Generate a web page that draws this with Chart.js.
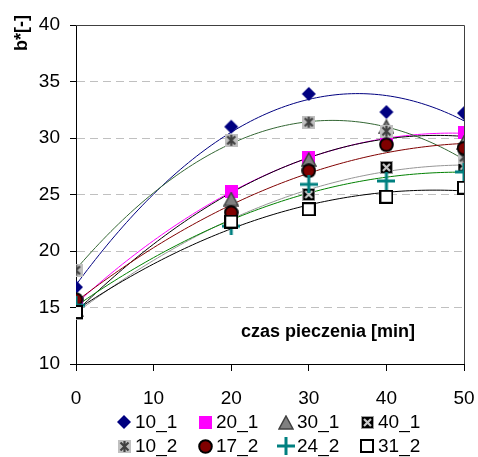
<!DOCTYPE html>
<html>
<head>
<meta charset="utf-8">
<script src="https://cdn.jsdelivr.net/npm/chart.js@4"></script>
<style>
  html, body { margin: 0; padding: 0; background: #fff; }
</style>
</head>
<body>
<canvas id="chart" width="478" height="457"></canvas>
<script>
// baking time [min]
const czas = [0, 20, 30, 40, 50]

// b* values per sample
const s10_1 = [16.8, 31.0, 33.9, 32.3, 32.2]
const s20_1 = [15.3, 25.3, 28.3, 29.8, 30.5]
const s30_1 = [14.8, 24.6, 28.1, 31.0, 29.6]
const s40_1 = [14.5, 23.0, 25.0, 27.4, 27.5]
const s10_2 = [18.3, 29.8, 31.4, 30.6, 28.3]
const s17_2 = [15.7, 23.4, 27.1, 29.4, 29.1]
const s24_2 = [15.2, 22.2, 25.9, 26.2, 27.0]
const s31_2 = [14.6, 22.6, 23.7, 24.8, 25.6]

const labels = ['10_1', '20_1', '30_1', '40_1', '10_2', '17_2', '24_2', '31_2']
const yTicks = [10, 15, 20, 25, 30, 35, 40]
const xTicks = [0, 10, 20, 30, 40, 50]

const FONT = "'Liberation Sans', Arial, sans-serif"

// marker pictures, drawn once and used as point styles
function marker(kind) {
    const c = document.createElement('canvas')
    const g = c.getContext('2d')
    if (kind == 'diamond') {
        c.width = c.height = 16
        g.fillStyle = '#000080'
        g.beginPath()
        g.moveTo(8, 1); g.lineTo(15, 8); g.lineTo(8, 15); g.lineTo(1, 8)
        g.closePath(); g.fill()
    } else if (kind == 'square') {
        c.width = c.height = 13
        g.fillStyle = '#ff00ff'
        g.fillRect(0, 0, 13, 13)
    } else if (kind == 'triangle') {
        c.width = 16; c.height = 15
        g.fillStyle = '#808080'
        g.strokeStyle = '#404040'
        g.lineWidth = 1.5
        g.beginPath()
        g.moveTo(8, 1); g.lineTo(15, 14); g.lineTo(1, 14)
        g.closePath(); g.fill(); g.stroke()
    } else if (kind == 'xsquare') {
        c.width = c.height = 13
        g.fillStyle = '#a0a0a0'
        g.fillRect(0, 0, 13, 13)
        g.fillStyle = '#000'
        g.fillRect(1, 1, 11, 11)
        g.strokeStyle = '#c8c8c8'
        g.lineWidth = 2.2
        g.beginPath()
        g.moveTo(3, 3); g.lineTo(10, 10); g.moveTo(10, 3); g.lineTo(3, 10)
        g.stroke()
    } else if (kind == 'star') {
        c.width = c.height = 13
        g.fillStyle = '#c0c0c0'
        g.fillRect(0, 0, 13, 13)
        g.strokeStyle = '#404040'
        g.lineWidth = 2.2
        g.beginPath()
        g.moveTo(2.5, 2.5); g.lineTo(10.5, 10.5); g.moveTo(10.5, 2.5); g.lineTo(2.5, 10.5)
        g.moveTo(6.5, 1); g.lineTo(6.5, 12)
        g.stroke()
    } else if (kind == 'circle') {
        c.width = c.height = 15
        g.fillStyle = '#800000'
        g.strokeStyle = '#000'
        g.lineWidth = 2
        g.beginPath()
        g.arc(7.5, 7.5, 6.3, 0, Math.PI * 2)
        g.fill(); g.stroke()
    } else if (kind == 'plus') {
        c.width = c.height = 18
        g.strokeStyle = '#008080'
        g.lineWidth = 3
        g.beginPath()
        g.moveTo(9, 0); g.lineTo(9, 18); g.moveTo(0, 9); g.lineTo(18, 9)
        g.stroke()
    } else if (kind == 'open') {
        c.width = c.height = 14
        g.fillStyle = '#fff'
        g.fillRect(1, 1, 12, 12)
        g.strokeStyle = '#000'
        g.lineWidth = 2
        g.strokeRect(1, 1, 12, 12)
    }
    return c
}

const series = [
    { label: labels[0], values: s10_1, mark: marker('diamond'), trend: '#000080' },
    { label: labels[1], values: s20_1, mark: marker('square'), trend: '#ff00ff' },
    { label: labels[2], values: s30_1, mark: marker('triangle'), trend: '#000000' },
    { label: labels[3], values: s40_1, mark: marker('xsquare'), trend: '#969696' },
    { label: labels[4], values: s10_2, mark: marker('star'), trend: '#336633' },
    { label: labels[5], values: s17_2, mark: marker('circle'), trend: '#800000' },
    { label: labels[6], values: s24_2, mark: marker('plus'), trend: '#008000' },
    { label: labels[7], values: s31_2, mark: marker('open'), trend: '#000000' }
]

// least squares 2nd order polynomial, like the spreadsheet trendline
function polyfit2(xs, ys) {
    const S = [0, 0, 0, 0, 0], T = [0, 0, 0]
    xs.forEach((x, i) => {
        for (let k = 0; k < 5; k++) S[k] += Math.pow(x, k)
        for (let k = 0; k < 3; k++) T[k] += ys[i] * Math.pow(x, k)
    })
    const A = [[S[0], S[1], S[2], T[0]], [S[1], S[2], S[3], T[1]], [S[2], S[3], S[4], T[2]]]
    for (let i = 0; i < 3; i++) {
        for (let j = i + 1; j < 3; j++) {
            const f = A[j][i] / A[i][i]
            for (let k = i; k < 4; k++) A[j][k] -= f * A[i][k]
        }
    }
    const r = [0, 0, 0]
    for (let i = 2; i >= 0; i--) {
        let s = A[i][3]
        for (let k = i + 1; k < 3; k++) s -= A[i][k] * r[k]
        r[i] = s / A[i][i]
    }
    return r
}

const trendlines = {
    id: 'trendlines',
    beforeDatasetsDraw(chart) {
        const { ctx, chartArea, scales } = chart
        ctx.save()
        ctx.beginPath()
        ctx.rect(chartArea.left, chartArea.top, chartArea.width, chartArea.height)
        ctx.clip()
        ctx.lineWidth = 1
        series.forEach((s) => {
            const c = polyfit2(czas, s.values)
            ctx.strokeStyle = s.trend
            ctx.beginPath()
            for (let x = czas[0]; x <= czas[czas.length - 1] + 0.01; x += 0.5) {
                const px = scales.x.getPixelForValue(x)
                const py = scales.y.getPixelForValue(c[0] + c[1] * x + c[2] * x * x)
                if (x == czas[0]) ctx.moveTo(px, py)
                else ctx.lineTo(px, py)
            }
            ctx.stroke()
        })
        ctx.restore()
    },
    afterDraw(chart) {
        const { ctx, chartArea } = chart
        ctx.save()
        // plot frame, top and right
        ctx.strokeStyle = '#404040'
        ctx.lineWidth = 1
        ctx.beginPath()
        ctx.moveTo(chartArea.left, chartArea.top + 0.5)
        ctx.lineTo(chartArea.right + 0.5, chartArea.top + 0.5)
        ctx.lineTo(chartArea.right + 0.5, chartArea.bottom)
        ctx.stroke()

        // axis titles
        ctx.fillStyle = '#000'
        ctx.font = 'bold 18px ' + FONT
        ctx.textAlign = 'center'
        ctx.textBaseline = 'alphabetic'
        ctx.fillText('czas pieczenia [min]', 328, 337)

        ctx.save()
        ctx.translate(27, 33)
        ctx.rotate(-Math.PI / 2)
        ctx.textBaseline = 'alphabetic'
        ctx.fillText('b*[-]', 0, 0)
        ctx.restore()

        // legend, two rows of four
        ctx.font = '19px ' + FONT
        ctx.textAlign = 'left'
        ctx.textBaseline = 'middle'
        const cols = [124, 205, 286, 367]
        const rows = [422, 446]
        series.forEach((s, i) => {
            const mx = cols[i % 4], my = rows[Math.floor(i / 4)]
            ctx.drawImage(s.mark, Math.round(mx - s.mark.width / 2), Math.round(my - s.mark.height / 2))
            ctx.fillText(s.label, mx + 11, my + 1)
        })
        ctx.restore()
    }
}

new Chart(document.getElementById('chart'), {
    type: 'scatter',
    data: {
        datasets: series.map((s, i) => ({
            label: s.label,
            data: czas.map((x, j) => ({ x: x, y: s.values[j] })),
            pointStyle: s.mark,
            showLine: false,
            order: series.length - i
        }))
    },
    options: {
        responsive: false,
        animation: false,
        devicePixelRatio: 1,
        layout: { padding: { top: 25, right: 14, left: 0, bottom: 0 } },
        plugins: {
            legend: { display: false },
            tooltip: { enabled: false }
        },
        scales: {
            x: {
                type: 'linear',
                min: 0,
                max: 50,
                afterBuildTicks: (s) => { s.ticks = xTicks.map((v) => ({ value: v })) },
                afterFit: (s) => { s.height = 93; s.paddingRight = 0; s.paddingLeft = 0 },
                grid: { drawOnChartArea: false, tickLength: 7, tickColor: '#000' },
                border: { color: '#000', width: 1 },
                ticks: { color: '#000', padding: 16, maxRotation: 0, font: { family: FONT, size: 19 } }
            },
            y: {
                min: 10,
                max: 40,
                afterBuildTicks: (s) => { s.ticks = yTicks.map((v) => ({ value: v })) },
                afterFit: (s) => { s.width = 76; s.paddingTop = 0; s.paddingBottom = 0 },
                grid: {
                    color: (c) => (c.tick && (c.tick.value == 10 || c.tick.value == 40)) ? 'rgba(0,0,0,0)' : '#c0c0c0',
                    tickColor: '#000',
                    tickLength: 6,
                    tickBorderDash: []
                },
                border: { color: '#000', width: 1, dash: [8, 5] },
                ticks: { color: '#000', padding: 10, font: { family: FONT, size: 19 } }
            }
        }
    },
    plugins: [trendlines]
})
</script>
</body>
</html>
